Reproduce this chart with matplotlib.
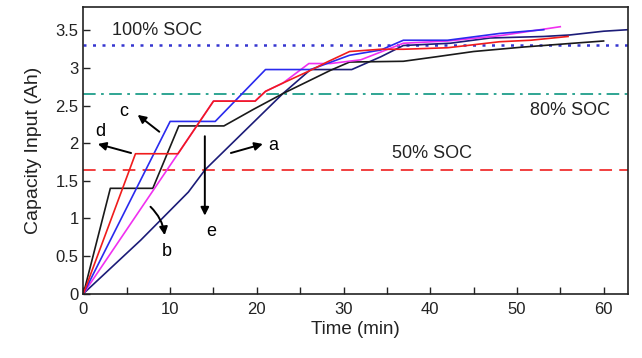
import matplotlib
matplotlib.use("Agg")
import matplotlib.pyplot as plt
from matplotlib.ticker import MultipleLocator, FuncFormatter

plt.rcParams['font.family'] = ['Liberation Sans', 'DejaVu Sans']

# Curve e (black, stepped)
e_t = [0, 3.1, 8.0, 11.0, 16.2, 19.6, 23.0, 28.5, 30.7, 36.9, 40.7, 45.0, 50.8, 56.5, 60.0]
e_q = [0, 1.40, 1.40, 2.23, 2.23, 2.45, 2.66, 2.97, 3.08, 3.09, 3.15, 3.22, 3.28, 3.33, 3.36]
# Curve d (red)
d_t = [0, 6.0, 10.9, 15.0, 19.8, 21.0, 23.0, 26.2, 28.1, 30.7, 34.3, 36.9, 42.0, 48.0, 51.6, 55.9]
d_q = [0, 1.86, 1.86, 2.56, 2.56, 2.69, 2.80, 2.97, 3.08, 3.22, 3.25, 3.25, 3.27, 3.35, 3.37, 3.42]
# Curve c (blue)
c_t = [0, 10.0, 15.2, 21.0, 26.2, 30.7, 34.3, 36.9, 42.0, 48.0, 53.1]
c_q = [0, 2.29, 2.29, 2.98, 2.98, 3.17, 3.24, 3.37, 3.37, 3.46, 3.51]
# Curve b (magenta)
b_t = [0, 15.0, 19.8, 21.0, 23.0, 26.0, 28.5, 32.0, 36.9, 42.0, 48.0, 55.0]
b_q = [0, 2.56, 2.56, 2.69, 2.80, 3.06, 3.06, 3.11, 3.33, 3.36, 3.43, 3.55]
# Curve a (navy)
a_t = [0, 6.6, 12.1, 14.05, 23.0, 26.2, 30.95, 34.3, 36.9, 42.3, 46.9, 53.1, 56.1, 60.0, 62.8]
a_q = [0, 0.71, 1.35, 1.65, 2.66, 2.98, 2.98, 3.15, 3.30, 3.33, 3.40, 3.42, 3.44, 3.49, 3.51]

soc_levels = [3.30, 2.65, 1.65]
soc_labels = ["100% SOC", "80% SOC", "50% SOC"]

fig = plt.figure(figsize=(6.42, 3.58), dpi=100)
ax = fig.add_axes([0.130, 0.180, 0.848, 0.800])

ax.axhline(soc_levels[0], color='#3535d0', linestyle=(0, (1.2, 2.6)), linewidth=1.8)
ax.axhline(soc_levels[1], color='#1f9e8a', linestyle=(0, (7, 3, 1.5, 3)), linewidth=1.3)
ax.axhline(soc_levels[2], color='#f03030', linestyle=(0, (7, 4)), linewidth=1.3)

lw = 1.2
ax.plot(a_t, a_q, color='#1c1c78', linewidth=lw)
ax.plot(e_t, e_q, color='#1a1a1a', linewidth=lw)
ax.plot(b_t, b_q, color='#f030f0', linewidth=lw)
ax.plot(c_t, c_q, color='#2a2aee', linewidth=lw)
ax.plot(d_t, d_q, color='#f01c1c', linewidth=lw)

fs = 13
ax.text(3.3, 3.50, soc_labels[0], fontsize=fs, va='center', ha='left', color='#222222')
ax.text(51.5, 2.44, soc_labels[1], fontsize=fs, va='center', ha='left', color='#222222')
ax.text(35.6, 1.86, soc_labels[2], fontsize=fs, va='center', ha='left', color='#222222')

arrow = dict(arrowstyle='-|>', color='black', linewidth=1.4, mutation_scale=12)
ax.annotate('', xy=(6.0, 2.40), xytext=(9.0, 2.13), arrowprops=arrow)
ax.text(4.6, 2.42, 'c', fontsize=fs, ha='center', va='center')
ax.annotate('', xy=(1.35, 2.0), xytext=(5.8, 1.86), arrowprops=arrow)
ax.text(1.9, 2.16, 'd', fontsize=fs, ha='center', va='center')
ax.annotate('', xy=(9.4, 0.74), xytext=(7.5, 1.18),
            arrowprops=dict(arrow, connectionstyle='arc3,rad=-0.2'))
ax.text(9.6, 0.56, 'b', fontsize=fs, ha='center', va='center')
ax.annotate('', xy=(21.0, 2.0), xytext=(16.7, 1.86), arrowprops=arrow)
ax.text(21.9, 1.97, 'a', fontsize=fs, ha='center', va='center')
ax.annotate('', xy=(14.0, 1.0), xytext=(14.0, 2.13), arrowprops=arrow)
ax.text(14.7, 0.83, 'e', fontsize=fs, ha='center', va='center')

ax.set_xlim(0, 62.8)
ax.set_ylim(0, 3.81)
ax.xaxis.set_major_locator(MultipleLocator(10))
ax.xaxis.set_minor_locator(MultipleLocator(5))
ax.yaxis.set_major_locator(MultipleLocator(0.5))
ax.yaxis.set_major_formatter(FuncFormatter(lambda v, p: f"{v:g}"))
ax.tick_params(axis='both', which='both', direction='in', length=5, width=1,
               labelsize=12, top=False, right=False, colors='#222222')
ax.tick_params(axis='x', pad=6)
for s in ax.spines.values():
    s.set_linewidth(1.2)
    s.set_color('#222222')

ax.set_xlabel('Time (min)', fontsize=13.5, color='#222222', labelpad=3)
ax.set_ylabel('Capacity Input (Ah)', fontsize=14, color='#222222', labelpad=10)

fig.savefig('out.png', dpi=100)
